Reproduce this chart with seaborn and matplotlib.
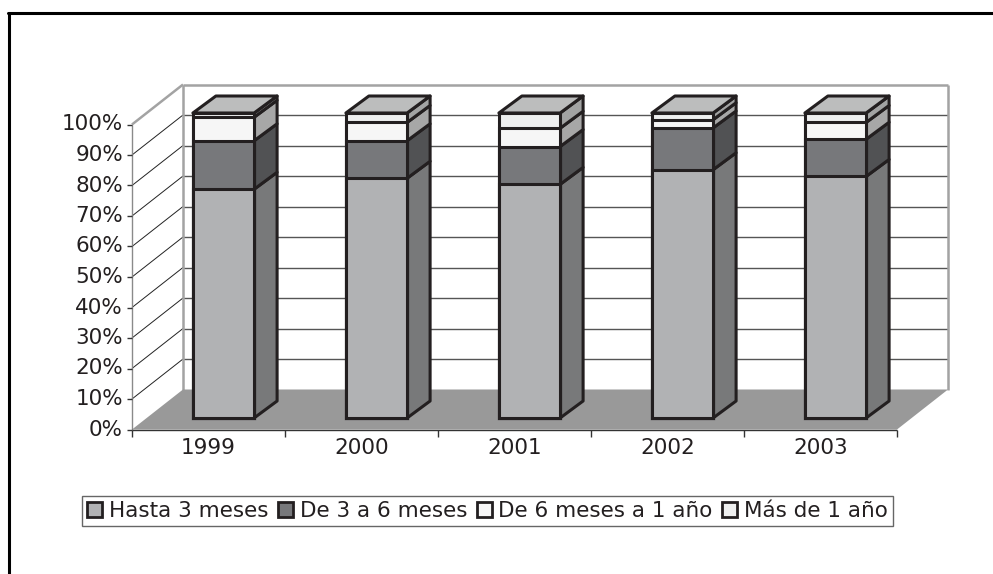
import numpy as np
import seaborn as sns
import matplotlib
matplotlib.use("Agg")
import matplotlib.pyplot as plt
from matplotlib.patches import Polygon, Patch
from matplotlib.lines import Line2D
from matplotlib.colors import to_rgb

# datos (porcentaje de cada tramo por año)
anios = ["1999", "2000", "2001", "2002", "2003"]
hasta_3 = [75.0, 78.6, 76.6, 81.4, 79.2]
de_3_a_6 = [15.9, 12.3, 12.4, 13.7, 12.2]
de_6_a_1 = [7.7, 6.0, 6.0, 2.7, 5.5]
mas_1 = [1.4, 3.1, 5.0, 2.2, 3.1]

etiquetas = ["Hasta 3 meses", "De 3 a 6 meses", "De 6 meses a 1 año", "Más de 1 año"]
colores = ["#b1b2b4", "#77787b", "#f6f6f6", "#eeefef"]
ticks_y = [0, 10, 20, 30, 40, 50, 60, 70, 80, 90, 100]

BORDE = "#231f20"
TXT = "#231f20"
FS = 15.5

sns.set_theme(style="white")
plt.rcParams['font.family'] = ['DejaVu Sans']

fig = plt.figure(figsize=(9.93, 5.74), dpi=100)
ax = fig.add_axes([147 / 993, 156 / 574, 765 / 993, 305 / 574])

# pixeles por unidad de datos
PX_X = 765 / 5
PX_Y = 305 / 100


def px(dx, dy):
    return dx / PX_X, dy / PX_Y


FRONT = px(-15, -11.5)
BACK = px(36, 28.5)
DEPTH = px(23, 17)


def shade(c, f):
    r, g, b = to_rgb(c)
    return (r * f, g * f, b * f)


series = [hasta_3, de_3_a_6, de_6_a_1, mas_1]
acum = np.cumsum(series, axis=0)

# barras apiladas: de la mas alta a la mas baja
for k in reversed(range(4)):
    sns.barplot(x=anios, y=acum[k], color=colores[k], saturation=1, width=0.4,
                edgecolor=BORDE, linewidth=2.2, errorbar=None, ax=ax, zorder=5)

ax.set_xlim(-0.5, 4.5)
ax.set_ylim(0, 100)
ax.axis("off")
for p in ax.patches:
    p.set_clip_on(False)

barras = ax.patches[:5]
dx, dy = DEPTH

# caras laterales y superiores
for i, b in enumerate(barras):
    xl = b.get_x()
    xr = xl + b.get_width()
    lo = 0
    for k in range(4):
        hi = acum[k][i]
        lado = Polygon([(xr, lo), (xr, hi), (xr + dx, hi + dy), (xr + dx, lo + dy)],
                       closed=True, facecolor=shade(colores[k], 0.68), edgecolor=BORDE,
                       linewidth=2.2, zorder=4, clip_on=False, joinstyle="round")
        ax.add_patch(lado)
        lo = hi
    top = acum[3][i]
    techo = Polygon([(xl, top), (xr, top), (xr + dx, top + dy), (xl + dx, top + dy)],
                    closed=True, facecolor=shade(colores[3], 0.79), edgecolor=BORDE,
                    linewidth=2.2, zorder=6, clip_on=False, joinstyle="round")
    ax.add_patch(techo)

# planos frontal y de fondo
fx0, fx1 = -0.5 + FRONT[0], 4.5 + FRONT[0]
bx0, bx1 = -0.5 + BACK[0], 4.5 + BACK[0]


def fy(v):
    return v + FRONT[1]


def by(v):
    return v + BACK[1]


def linea(xs, ys, color, lw, z=1):
    ax.add_line(Line2D(xs, ys, color=color, linewidth=lw, zorder=z, clip_on=False,
                       solid_capstyle="butt"))


# suelo
suelo = Polygon([(fx0, fy(0)), (fx1, fy(0)), (bx1, by(0)), (bx0, by(0))], closed=True,
                facecolor="#999999", edgecolor="none", zorder=2, clip_on=False)
ax.add_patch(suelo)

# rejilla en la pared del fondo y en la pared izquierda
for v in ticks_y[1:-1]:
    linea([bx0, bx1], [by(v), by(v)], "#555555", 1.0, 1)
    linea([fx0, bx0], [fy(v), by(v)], "#222222", 0.7, 1)

GRIS = "#a3a3a3"
linea([bx0, bx1], [by(100), by(100)], GRIS, 1.8, 1.5)
linea([bx1, bx1], [by(0), by(100)], GRIS, 1.8, 1.5)
linea([bx0, bx0], [by(0), by(100)], GRIS, 1.8, 1.5)
linea([fx0, bx0], [fy(100), by(100)], GRIS, 1.8, 1.5)

# eje vertical frontal
linea([fx0, fx0], [fy(0), fy(100)], "#8a8a8a", 1.0, 3)
tick_x = px(5, 0)[0]
for v in ticks_y:
    linea([fx0 - tick_x, fx0], [fy(v), fy(v)], "#333333", 1.0, 3)
    ax.text(fx0 - px(9, 0)[0], fy(v), f"{v}%", ha="right", va="center",
            fontsize=FS, color=TXT)

# eje horizontal frontal
linea([fx0, fx1], [fy(0), fy(0)], "#333333", 1.0, 3)
tick_y = px(0, 7)[1]
for i in range(len(anios) + 1):
    xb = i - 0.5 + FRONT[0]
    linea([xb, xb], [fy(0) - tick_y, fy(0)], "#333333", 1.0, 3)
for i, a in enumerate(anios):
    ax.text(i + FRONT[0], fy(0) - px(0, 8)[1], a, ha="center", va="top",
            fontsize=FS, color=TXT)

# leyenda
handles = [Patch(facecolor=c, edgecolor=BORDE, linewidth=2) for c in colores]
fig.legend(handles, etiquetas, loc="center", bbox_to_anchor=(487.5 / 993, 1 - 511 / 574),
           ncol=4, frameon=True, fancybox=False, edgecolor="#666666", fontsize=FS,
           handlelength=0.7, handleheight=0.7, handletextpad=0.3, columnspacing=0.45,
           borderpad=0.25, borderaxespad=0, labelcolor=TXT, framealpha=1)
fig.legends[0].get_frame().set_linewidth(1.0)

# marco de la figura
fig.add_artist(Line2D([8 / 993, 1], [1 - 13 / 574, 1 - 13 / 574], color="black",
                      linewidth=2.2, transform=fig.transFigure))
fig.add_artist(Line2D([9 / 993, 9 / 993], [0, 1 - 13 / 574], color="black",
                      linewidth=2.2, transform=fig.transFigure))

fig.savefig("out.png", dpi=100, facecolor="white")
